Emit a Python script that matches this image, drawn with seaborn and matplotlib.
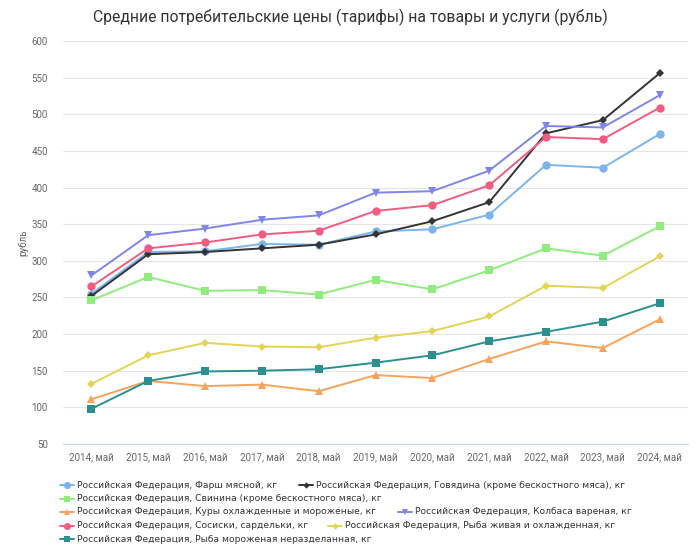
import seaborn as sns
import matplotlib.pyplot as plt
import pandas as pd
from matplotlib.lines import Line2D

# Data
years = ['2014, май', '2015, май', '2016, май', '2017, май', '2018, май', '2019, май',
         '2020, май', '2021, май', '2022, май', '2023, май', '2024, май']

farsh = [255, 312, 313, 323, 322, 340, 343, 363, 431, 427, 473]
govyadina = [252, 309, 312, 317, 322, 336, 354, 380, 474, 492, 556]
svinina = [246, 278, 259, 260, 254, 274, 261, 287, 317, 307, 347]
kury = [111, 136, 129, 131, 122, 144, 140, 166, 190, 181, 220]
kolbasa = [280, 335, 344, 356, 362, 393, 395, 423, 484, 482, 526]
sosiski = [265, 317, 325, 336, 341, 368, 376, 403, 469, 466, 509]
ryba_zhivaya = [132, 171, 188, 183, 182, 195, 204, 224, 266, 263, 306]
ryba_moroz = [98, 136, 149, 150, 152, 161, 171, 190, 203, 217, 242]

names = ['Российская Федерация, Фарш мясной, кг',
         'Российская Федерация, Говядина (кроме бескостного мяса), кг',
         'Российская Федерация, Свинина (кроме бескостного мяса), кг',
         'Российская Федерация, Куры охлажденные и мороженые, кг',
         'Российская Федерация, Колбаса вареная, кг',
         'Российская Федерация, Сосиски, сардельки, кг',
         'Российская Федерация, Рыба живая и охлажденная, кг',
         'Российская Федерация, Рыба мороженая неразделанная, кг']
series = [farsh, govyadina, svinina, kury, kolbasa, sosiski, ryba_zhivaya, ryba_moroz]

colors = ['#7cb5ec', '#333338', '#90ed7d', '#f7a35c', '#8085e9', '#f15c80', '#e4d354', '#2b908f']
markers = ['o', 'D', 's', '^', 'v', 'o', 'D', 's']
msizes = [6, 3.8, 5.6, 5.6, 5.6, 6, 3.8, 5.6]

rows = []
for name, vals in zip(names, series):
    for i, v in enumerate(vals):
        rows.append({'pos': i, 'value': v, 'series': name})
df = pd.DataFrame(rows)

sns.set_style("white")
plt.rcParams['font.family'] = ['Roboto', 'DejaVu Sans']

fig = plt.figure(figsize=(7, 5.54), dpi=100)
ax = fig.add_axes([0.09, 0.1986, 0.893, 0.7274])

for name, col, mk, ms in zip(names, colors, markers, msizes):
    sns.lineplot(data=df[df['series'] == name], x='pos', y='value', color=col,
                 marker=mk, markersize=ms, markeredgewidth=0, linewidth=1.4,
                 ax=ax, legend=False)

ax.set_xlim(-0.5, len(years) - 0.5)
ax.set_ylim(50, 600)
ax.set_yticks(range(50, 601, 50))
ax.set_xticks(range(len(years)))
ax.set_xticklabels(years)
ax.set_xticks([i - 0.5 for i in range(len(years) + 1)], minor=True)
ax.tick_params(axis='x', which='major', length=0, pad=6, labelsize=7.0, colors='#666666')
ax.tick_params(axis='x', which='minor', length=6, width=0.8, color='#ccd6eb')
ax.tick_params(axis='y', length=0, pad=11, labelsize=7.0, colors='#666666')
ax.yaxis.grid(True, color='#e6e6e6', linewidth=0.8)
ax.set_axisbelow(True)
for s in ['top', 'right', 'left']:
    ax.spines[s].set_visible(False)
ax.spines['bottom'].set_color('#ccd6eb')
ax.spines['bottom'].set_linewidth(0.8)
ax.set_xlabel('')
ax.set_ylabel('рубль', fontsize=7.0, color='#666666', labelpad=2)

fig.text(0.5, 0.968, 'Средние потребительские цены (тарифы) на товары и услуги (рубль)',
         ha='center', va='center', fontsize=11.3, color='#333333')

# Legend laid out in flowing rows like the original
W, H = 700, 554
legend_layout = [
    (0, 67, 485), (1, 306, 485),
    (2, 67, 498.5),
    (3, 67, 512), (4, 405, 512),
    (5, 67, 525.5), (6, 335, 525.5),
    (7, 67, 539),
]
for idx, x, y in legend_layout:
    fy = 1 - y / H
    fig.add_artist(Line2D([(x - 7) / W, (x + 7) / W], [fy, fy], transform=fig.transFigure,
                          color=colors[idx], linewidth=1.4))
    fig.add_artist(Line2D([x / W], [fy], transform=fig.transFigure, color=colors[idx],
                          marker=markers[idx], markersize=msizes[idx] * 0.85, markeredgewidth=0))
    fig.text((x + 10) / W, fy, names[idx], ha='left', va='center', fontsize=6.6,
             color='#333333', family=['Liberation Sans Narrow', 'DejaVu Sans'])

plt.savefig('out.png', dpi=100)
